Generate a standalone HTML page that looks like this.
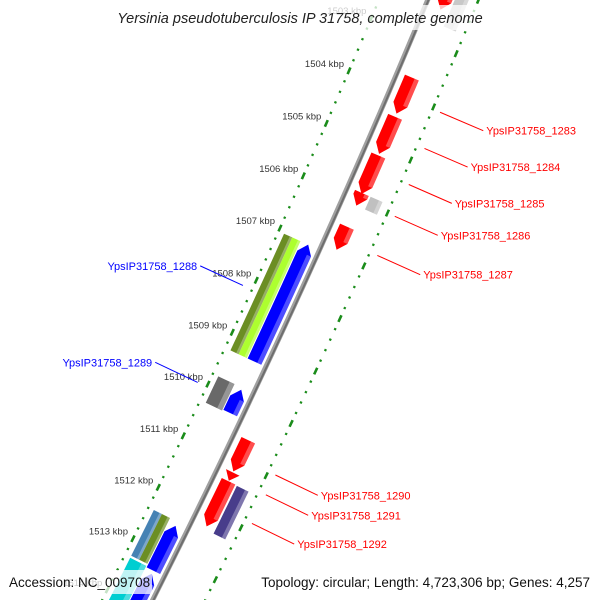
<!DOCTYPE html>
<html><head><meta charset="utf-8">
<style>
html,body{margin:0;padding:0;background:#fff;width:600px;height:600px;overflow:hidden;}
svg{display:block;font-family:"Liberation Sans",sans-serif;overflow:hidden;}
</style></head>
<body>
<svg id="map" width="600" height="600" viewBox="0 0 600 600" xmlns="http://www.w3.org/2000/svg">
<g id="ruler"></g>
<g id="backbone"></g>
<g id="features"></g>
<g id="labels"></g>
<rect x="100" y="5" width="400" height="25" fill="#fff" opacity="0.75"/>
<text x="300" y="23" text-anchor="middle" font-size="14.5" font-style="italic" fill="#222">Yersinia pseudotuberculosis IP 31758, complete genome</text>
<rect x="4" y="570" width="148" height="24" fill="#fff" opacity="0.75"/>
<text x="9" y="587" font-size="13.5" fill="#111">Accession: NC_009708</text>
<rect x="255" y="570" width="340" height="24" fill="#fff" opacity="0.75"/>
<text x="590" y="587" text-anchor="end" font-size="13.5" fill="#111">Topology: circular; Length: 4,723,306 bp; Genes: 4,257</text>
</svg>
<script>
// ---- data ----
const featStart = [1501.5, 1503.68, 1504.42, 1505.15, 1505.86, 1506.50, 1510.58, 1511.20, 1511.37, 1501.5, 1505.86, 1511.38, 1507.06, 1509.84, 1512.47, 1513.40, 1507.06, 1507.06, 1509.80, 1512.39, 1512.39, 1513.32];
const featEnd   = [1502.40, 1504.36, 1505.12, 1505.88, 1506.10, 1506.94, 1511.18, 1511.36, 1512.24, 1502.65, 1506.10, 1512.30, 1509.30, 1510.29, 1513.34, 1514.30, 1509.30, 1509.30, 1510.31, 1513.28, 1513.28, 1514.30];
const featStrand= [1,1,1,1,1,1,1,1,1, 1,1,1, -1,-1,-1,-1, -1,-1,-1,-1,-1,-1];
const featLayer = ["f1","f1","f1","f1","f1","f1","f1","f1","f1","f2","f2","f2","r1","r1","r1","r1","r2a","r2b","r2","r2a","r2b","r2"];
const featArrow = [1,1,1,1,1,1,1,1,1, 0,0,0, 1,1,1,1, 0,0,0,0,0,0];
const featColor = ["#ff0000","#ff0000","#ff0000","#ff0000","#ff0000","#ff0000","#ff0000","#ff0000","#ff0000","#c8c8c8","#c0c0c0","#483d8b","#0000ff","#0000ff","#0000ff","#0000ff","#6b8e23","#adff2f","#696969","#4682b4","#6b8e23","#00ced1"];
const labelText = ["YpsIP31758_1283","YpsIP31758_1284","YpsIP31758_1285","YpsIP31758_1286","YpsIP31758_1287","YpsIP31758_1290","YpsIP31758_1291","YpsIP31758_1292","YpsIP31758_1288","YpsIP31758_1289"];
const labelKbp  = [1504.04, 1504.72, 1505.40, 1506.00, 1506.74, 1510.92, 1511.30, 1511.85, 1508.18, 1510.05];
const labelSide = [1,1,1,1,1,1,1,1,-1,-1];
const tickStart = 1500, tickEnd = 1516, tickStep = 0.2;

// ---- geometry ----
const CX=-7945, CY=-3474.6, R0=9065, A0=23.145, DPK=0.3638;
const PXK = R0*DPK*Math.PI/180;
const layers = {f1:[8,23], f2:[25,38], r1:[-20,-5], r2:[-39,-21], r2a:[-39,-30], r2b:[-30,-21]};
const NS="http://www.w3.org/2000/svg";
function ang(k){return (A0+(k-1504)*DPK)*Math.PI/180;}
function pt(k,r){const a=ang(k);return [CX+(R0+r)*Math.cos(a), CY+(R0+r)*Math.sin(a)];}
function f(p){return p[0].toFixed(2)+","+p[1].toFixed(2);}
function arcPts(k1,k2,r){const n=Math.max(2,Math.ceil(Math.abs(k2-k1)*8));const o=[];for(let i=0;i<=n;i++){o.push(pt(k1+(k2-k1)*i/n,r));}return o;}
function mk(tag,parent){const e=document.createElementNS(NS,tag);parent.appendChild(e);return e;}

// backbone
const bb=document.getElementById('backbone');
const b1=mk('polyline',bb);


b1.setAttribute('points',arcPts(1498,1515.5,0).map(f).join(' '));
b1.setAttribute('fill','none');b1.setAttribute('stroke','#a0a0a0');b1.setAttribute('stroke-width','5');
const b2=mk('polyline',bb);


b2.setAttribute('points',arcPts(1498,1515.5,0.8).map(f).join(' '));
b2.setAttribute('fill','none');b2.setAttribute('stroke','#6e6e6e');b2.setAttribute('stroke-width','2');

// rulers
const rg=document.getElementById('ruler');
const nT=Math.round((tickEnd-tickStart)/tickStep);
for(let i=0;i<=nT;i++){
  const k=tickStart+i*tickStep;
  const major=(i%5===0);
  const hl=(major?3.6:1.1)/PXK;
  [-45,47].forEach(r=>{
    const t=mk('line',rg);
    
    
    const p1=pt(k-hl,r),p2=pt(k+hl,r);
    t.setAttribute('x1',p1[0]);t.setAttribute('y1',p1[1]);t.setAttribute('x2',p2[0]);t.setAttribute('y2',p2[1]);
    t.setAttribute('stroke','#1a8c1a');t.setAttribute('stroke-width',major?'2.6':'2.3');
  });
  if(major){
    const p=pt(k,-45);
    const tx=mk('text',rg);
    
    
    tx.setAttribute('x',(p[0]-5).toFixed(1));tx.setAttribute('y',(p[1]-4).toFixed(1));
    tx.setAttribute('text-anchor','end');tx.setAttribute('font-size','9.5');tx.setAttribute('fill','#333');
    tx.textContent=Math.round(k)+' kbp';
  }
}

// features
const fg=document.getElementById('features');
for(let i=0;i<featStart.length;i++){
  const s=featStart[i],e=featEnd[i],L=layers[featLayer[i]];
  const ri=L[0],ro=L[1],rm=(ri+ro)/2;
  let pts=[];
  const h=Math.min(0.17,(e-s));
  let bodyS=s,bodyE=e;
  if(featArrow[i]){
    if(featStrand[i]>0){
      bodyE=e-h;
      pts=arcPts(s,bodyE,ri).concat([pt(e,rm)]).concat(arcPts(bodyE,s,ro));
    } else {
      bodyS=s+h;
      pts=[pt(s,rm)].concat(arcPts(bodyS,e,ri)).concat(arcPts(e,bodyS,ro));
    }
  } else {
    pts=arcPts(s,e,ri).concat(arcPts(e,s,ro));
  }
  const poly=mk('polygon',fg);
  
  
  poly.setAttribute('points',pts.map(f).join(' '));
  poly.setAttribute('fill',featColor[i]);
  if(bodyE>bodyS+0.01){
    const hi=mk('polygon',fg);
    
    
    const hr=ro-(ro-ri)*0.3;
    hi.setAttribute('points',arcPts(bodyS,bodyE,hr).concat(arcPts(bodyE,bodyS,ro)).map(f).join(' '));
    hi.setAttribute('fill','#fff');hi.setAttribute('opacity','0.3');
  }
}

// labels
const lg=document.getElementById('labels');
for(let i=0;i<labelText.length;i++){
  const sd=labelSide[i];
  const col=sd>0?'#ff0000':'#0000ff';
  const p1=pt(labelKbp[i],sd*55),p2=pt(labelKbp[i],sd*102);
  const ln=mk('line',lg);
  
  
  ln.setAttribute('x1',p1[0]);ln.setAttribute('y1',p1[1]);ln.setAttribute('x2',p2[0]);ln.setAttribute('y2',p2[1]);
  ln.setAttribute('stroke',col);ln.setAttribute('stroke-width','1');
  const tx=mk('text',lg);
  
  
  tx.setAttribute('x',(p2[0]+sd*3).toFixed(1));tx.setAttribute('y',(p2[1]+4).toFixed(1));
  tx.setAttribute('text-anchor',sd>0?'start':'end');
  tx.setAttribute('font-size','11');tx.setAttribute('fill',col);
  tx.textContent=labelText[i];
}
</script>
</body></html>
